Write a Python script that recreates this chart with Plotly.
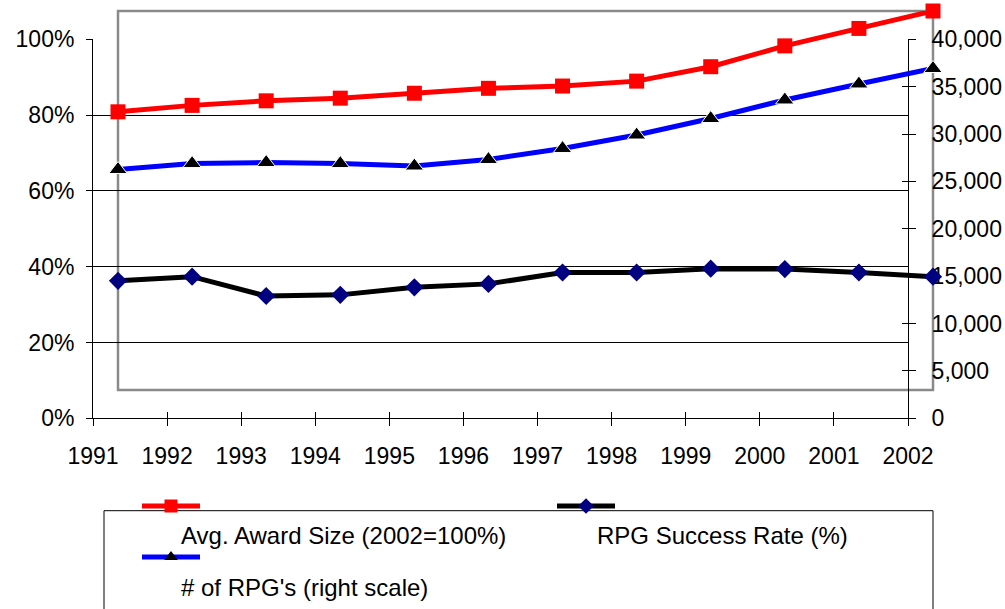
import plotly.graph_objects as go

# ---- data -------------------------------------------------------------
years = list(range(1991, 2003))
avg_award_size = [0.734, 0.751, 0.763, 0.770, 0.783, 0.796, 0.802, 0.815, 0.853, 0.908, 0.954, 1.000]
success_rate = [0.288, 0.299, 0.248, 0.251, 0.271, 0.280, 0.310, 0.310, 0.320, 0.319, 0.310, 0.299]
num_rpgs = [23270, 23900, 24010, 23900, 23640, 24330, 25490, 26910, 28650, 30610, 32300, 33930]

pct_ticks = [0, 0.2, 0.4, 0.6, 0.8, 1.0]
count_ticks = list(range(0, 40001, 5000))

legend_labels = ["Avg. Award Size (2002=100%)", "RPG Success Rate (%)", "# of RPG's (right scale)"]

# ---- page geometry (pixels) ------------------------------------------
W, H = 1005, 609
FONT = "Liberation Sans, Arial, sans-serif"


def fx(px):
    return px / W


def fy(py):
    return 1 - py / H


# visible frame with the scales
axis_x = [fx(93), fx(908)]
axis_y = [fy(418.3), fy(39.3)]
# frame in which the series are plotted
data_x = [fx(118), fx(933)]
data_y = [fy(390), fy(11)]

RED = "#ff0000"
BLUE = "#0000ff"
NAVY = "#000080"

fig = go.Figure()

# empty traces so that every scale axis gets its subplot drawn
for xa, ya in [("x", "y"), ("x", "y2"), ("x3", "y"), ("x", "y5")]:
    fig.add_trace(go.Scatter(x=[], y=[], xaxis=xa, yaxis=ya, mode="lines",
                             showlegend=False, hoverinfo="skip"))

# series
fig.add_trace(go.Scatter(
    x=years, y=avg_award_size, xaxis="x2", yaxis="y3", mode="lines+markers",
    line=dict(color=RED, width=5), marker=dict(symbol="square", size=15, color=RED),
    cliponaxis=False, showlegend=False, name=legend_labels[0]))
fig.add_trace(go.Scatter(
    x=years, y=num_rpgs, xaxis="x2", yaxis="y4", mode="lines+markers",
    line=dict(color=BLUE, width=5),
    marker=dict(symbol="triangle-up", size=16, color="black", line=dict(color="white", width=1)),
    cliponaxis=False, showlegend=False, name=legend_labels[2]))
fig.add_trace(go.Scatter(
    x=years, y=success_rate, xaxis="x2", yaxis="y3", mode="lines+markers",
    line=dict(color="black", width=5), marker=dict(symbol="diamond", size=14, color=NAVY),
    cliponaxis=False, showlegend=False, name=legend_labels[1]))

# legend swatches drawn on a pixel-space overlay
leg_rows = [
    dict(xs=[142, 200], y=506, color=RED, sym="square", mcol=RED, size=13),
    dict(xs=[557, 615], y=506, color="black", sym="diamond", mcol=NAVY, size=12),
    dict(xs=[142, 200], y=557, color=BLUE, sym="triangle-up", mcol="black", size=12),
]
for r in leg_rows:
    fig.add_trace(go.Scatter(
        x=r["xs"], y=[r["y"], r["y"]], xaxis="x4", yaxis="y6", mode="lines",
        line=dict(color=r["color"], width=5), showlegend=False, hoverinfo="skip",
        cliponaxis=False))
    fig.add_trace(go.Scatter(
        x=[sum(r["xs"]) / 2], y=[r["y"]], xaxis="x4", yaxis="y6", mode="markers",
        marker=dict(symbol=r["sym"], size=r["size"], color=r["mcol"]),
        showlegend=False, hoverinfo="skip", cliponaxis=False))

tick_font = dict(family=FONT, size=23, color="black")
fixed = dict(fixedrange=True, automargin=False)

fig.update_layout(
    width=W, height=H, autosize=False,
    margin=dict(l=0, r=0, t=0, b=0, pad=0, autoexpand=False),
    paper_bgcolor="white", plot_bgcolor="rgba(0,0,0,0)",
    font=dict(family=FONT, size=23, color="black"),
    showlegend=False,
    # visible category axis
    xaxis=dict(domain=axis_x, range=[1991, 2002], anchor="y",
               tickmode="array", tickvals=years, ticktext=[str(y) for y in years],
               ticks="outside", ticklen=7, tickwidth=1, tickcolor="black",
               showline=True, linecolor="black", linewidth=1,
               showgrid=False, zeroline=False, tickfont=tick_font,
               ticklabelstandoff=10, **fixed),
    # inner half of the crossing ticks on the category axis
    xaxis3=dict(domain=axis_x, range=[1991, 2002], anchor="y", overlaying="x",
                tickmode="array", tickvals=years, ticks="inside", ticklen=6,
                tickwidth=1, tickcolor="black", showticklabels=False,
                showline=False, showgrid=False, zeroline=False, **fixed),
    # left percentage scale
    yaxis=dict(domain=axis_y, range=[0, 1], anchor="x",
               tickmode="array", tickvals=pct_ticks, tickformat=".0%",
               ticks="outside", ticklen=6, tickwidth=1, tickcolor="black",
               showline=True, linecolor="black", linewidth=1,
               showgrid=True, gridcolor="black", gridwidth=1,
               zeroline=False, tickfont=tick_font, ticklabelstandoff=7, **fixed),
    # right count scale
    yaxis2=dict(domain=axis_y, range=[0, 40000], anchor="x", overlaying="y", side="right",
                tickmode="array", tickvals=count_ticks, tickformat=",",
                ticks="outside", ticklen=7, tickwidth=1, tickcolor="black",
                showline=True, linecolor="black", linewidth=1,
                showgrid=False, zeroline=False, tickfont=tick_font,
                ticklabelstandoff=11, **fixed),
    yaxis5=dict(domain=axis_y, range=[0, 40000], anchor="x", overlaying="y", side="right",
                tickmode="array", tickvals=count_ticks, ticks="inside", ticklen=6,
                tickwidth=1, tickcolor="black", showticklabels=False,
                showline=False, showgrid=False, zeroline=False, **fixed),
    # series frame
    xaxis2=dict(domain=data_x, range=[1991, 2002], anchor="y3", visible=False, **fixed),
    yaxis3=dict(domain=data_y, range=[0, 1], anchor="x2", visible=False, **fixed),
    yaxis4=dict(domain=data_y, range=[0, 40000], anchor="x2", overlaying="y3",
                side="right", visible=False, **fixed),
    # pixel-space overlay for the legend swatches
    xaxis4=dict(domain=[0, 1], range=[0, W], anchor="y6", visible=False, **fixed),
    yaxis6=dict(domain=[0, 1], range=[H, 0], anchor="x4", visible=False, **fixed),
)

# grey frame around the series area
fig.add_shape(type="rect", xref="x2 domain", yref="y3 domain", x0=0, x1=1, y0=0, y1=1,
              line=dict(color="#8a8a8a", width=2.5), fillcolor="rgba(0,0,0,0)", layer="below")

# legend box
fig.add_shape(type="rect", xref="paper", yref="paper",
              x0=fx(104), x1=fx(933), y0=fy(640), y1=fy(510.7),
              line=dict(color="black", width=1), fillcolor="rgba(0,0,0,0)", layer="below")

legend_text_pos = [(179, 535), (595, 535), (179, 587)]
for label, (lx, ly) in zip(legend_labels, legend_text_pos):
    fig.add_annotation(text=label, xref="paper", yref="paper", x=fx(lx), y=fy(ly),
                       xanchor="left", yanchor="middle", showarrow=False,
                       font=dict(family=FONT, size=24, color="black"))

fig.write_html("out.html")
